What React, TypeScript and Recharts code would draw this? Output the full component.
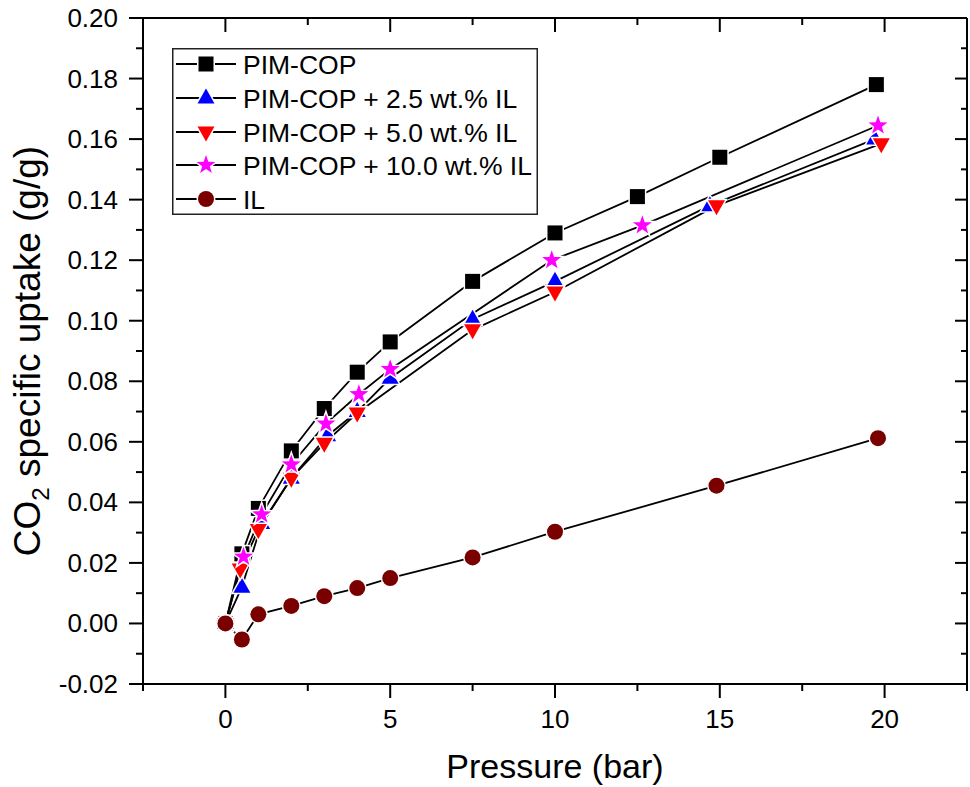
import React from 'react';
import { ComposedChart, Line, XAxis, YAxis, Legend, Label } from 'recharts';

// ---------- data (pressure in bar, uptake in g/g) ----------
const pimCop = [
  { x: 0, y: 0 }, { x: 0.5, y: 0.023 }, { x: 1, y: 0.038 }, { x: 2, y: 0.057 },
  { x: 3, y: 0.071 }, { x: 4, y: 0.083 }, { x: 5, y: 0.093 }, { x: 7.5, y: 0.113 },
  { x: 10, y: 0.129 }, { x: 12.5, y: 0.141 }, { x: 15, y: 0.154 }, { x: 19.75, y: 0.178 },
];
const pimCop25 = [
  { x: 0, y: 0 }, { x: 0.5, y: 0.012 }, { x: 1.1, y: 0.033 }, { x: 2, y: 0.048 },
  { x: 3.1, y: 0.062 }, { x: 4, y: 0.07 }, { x: 5, y: 0.081 }, { x: 7.5, y: 0.1005 },
  { x: 10, y: 0.113 }, { x: 14.7, y: 0.138 }, { x: 19.7, y: 0.16 },
];
const pimCop50 = [
  { x: 0, y: 0 }, { x: 0.45, y: 0.018 }, { x: 1, y: 0.031 }, { x: 2, y: 0.048 },
  { x: 3, y: 0.0595 }, { x: 4, y: 0.0695 }, { x: 7.5, y: 0.097 },
  { x: 10, y: 0.1095 }, { x: 14.9, y: 0.138 }, { x: 19.9, y: 0.1585 },
];
const pimCop100 = [
  { x: 0, y: 0 }, { x: 0.55, y: 0.022 }, { x: 1.1, y: 0.036 }, { x: 2, y: 0.0525 },
  { x: 3.05, y: 0.066 }, { x: 4.05, y: 0.0757 }, { x: 5, y: 0.084 },
  { x: 9.9, y: 0.12 }, { x: 12.65, y: 0.1315 }, { x: 19.8, y: 0.1645 },
];
const ionicLiquid = [
  { x: 0, y: 0 }, { x: 0.5, y: -0.0053 }, { x: 1, y: 0.003 }, { x: 2, y: 0.0058 },
  { x: 3, y: 0.009 }, { x: 4, y: 0.0117 }, { x: 5, y: 0.015 }, { x: 7.5, y: 0.0218 },
  { x: 10, y: 0.0303 }, { x: 14.9, y: 0.0455 }, { x: 19.8, y: 0.0612 },
];

const seriesNames = [
  'PIM-COP',
  'PIM-COP + 2.5 wt.% IL',
  'PIM-COP + 5.0 wt.% IL',
  'PIM-COP + 10.0 wt.% IL',
  'IL',
];

const xDomain = [-2.5, 22.5];
const yDomain = [-0.02, 0.2];
const xTicks = [-2.5, 0, 2.5, 5, 7.5, 10, 12.5, 15, 17.5, 20, 22.5];
const xMajorTicks = [0, 5, 10, 15, 20];
const yTicks = [-0.02, -0.01, 0, 0.01, 0.02, 0.03, 0.04, 0.05, 0.06, 0.07, 0.08, 0.09, 0.1,
  0.11, 0.12, 0.13, 0.14, 0.15, 0.16, 0.17, 0.18, 0.19, 0.2];
const yMajorTicks = [-0.02, 0, 0.02, 0.04, 0.06, 0.08, 0.1, 0.12, 0.14, 0.16, 0.18, 0.2];

const xAxisTitle = 'Pressure (bar)';

// ---------- styling ----------
const FONT = '"Liberation Sans", Arial, Helvetica, sans-serif';
const BLUE = '#0000FF';
const RED = '#FF0000';
const MAGENTA = '#FF00FF';
const DARKRED = '#7A0000';

const isMajor = (v: number, list: number[]) => list.some((m) => Math.abs(m - v) < 1e-9);

// ---------- marker shapes ----------
const halo = { stroke: '#fff', strokeWidth: 3, paintOrder: 'stroke' } as any;

const SquareMark = ({ cx, cy, s = 15 }: any) => (
  <rect x={cx - s / 2} y={cy - s / 2} width={s} height={s} fill="#000" {...halo} />
);
const TriUpMark = ({ cx, cy, color }: any) => (
  <polygon points={`${cx},${cy - 9.5} ${cx - 8.5},${cy + 5.5} ${cx + 8.5},${cy + 5.5}`} fill={color} {...halo} />
);
const TriDownMark = ({ cx, cy, color }: any) => (
  <polygon points={`${cx},${cy + 9.5} ${cx - 8.5},${cy - 5.5} ${cx + 8.5},${cy - 5.5}`} fill={color} {...halo} />
);
const StarMark = ({ cx, cy, color }: any) => {
  const pts: string[] = [];
  for (let i = 0; i < 10; i++) {
    const r = i % 2 === 0 ? 10 : 4;
    const a = -Math.PI / 2 + (i * Math.PI) / 5;
    pts.push(`${cx + r * Math.cos(a)},${cy + r * Math.sin(a)}`);
  }
  return <polygon points={pts.join(' ')} fill={color} {...halo} />;
};
const CircleMark = ({ cx, cy, color }: any) => <circle cx={cx} cy={cy} r={8} fill={color} {...halo} />;

const markers = [
  (p: any) => <SquareMark {...p} />,
  (p: any) => <TriUpMark {...p} color={BLUE} />,
  (p: any) => <TriDownMark {...p} color={RED} />,
  (p: any) => <StarMark {...p} color={MAGENTA} />,
  (p: any) => <CircleMark {...p} color={DARKRED} />,
];

const makeDot = (idx: number) => (props: any) => {
  const { cx, cy, key, index } = props;
  if (cx == null || cy == null) return <g key={key ?? index} />;
  return <g key={key ?? `d-${idx}-${index}`}>{markers[idx]({ cx, cy })}</g>;
};

// ---------- ticks ----------
const BottomTick = ({ x, y, payload }: any) => {
  const major = isMajor(payload.value, xMajorTicks);
  return (
    <g>
      <line x1={x} x2={x} y1={y} y2={y + (major ? 14 : 7)} stroke="#000" strokeWidth={2} />
      {major && (
        <text x={x} y={y + 44} textAnchor="middle" fontSize={26} fontFamily={FONT} fill="#000">
          {payload.value}
        </text>
      )}
    </g>
  );
};
const TopTick = ({ x, y, payload }: any) => {
  const major = isMajor(payload.value, xMajorTicks);
  return <line x1={x} x2={x} y1={y} y2={y + (major ? 14 : 7)} stroke="#000" strokeWidth={2} />;
};
const LeftTick = ({ x, y, payload }: any) => {
  const major = isMajor(payload.value, yMajorTicks);
  return (
    <g>
      <line x1={x} x2={x - (major ? 14 : 7)} y1={y} y2={y} stroke="#000" strokeWidth={2} />
      {major && (
        <text x={x - 25} y={y + 9} textAnchor="end" fontSize={26} fontFamily={FONT} fill="#000">
          {payload.value.toFixed(2)}
        </text>
      )}
    </g>
  );
};
const RightTick = ({ x, y, payload }: any) => {
  const major = isMajor(payload.value, yMajorTicks);
  return <line x1={x} x2={x - (major ? 12 : 6)} y1={y} y2={y} stroke="#000" strokeWidth={2} />;
};

// ---------- titles ----------
const XTitle = ({ viewBox }: any) => {
  const { x, y, width } = viewBox;
  return (
    <text x={x + width / 2} y={y + 94} textAnchor="middle" fontSize={34} fontFamily={FONT} fill="#000">
      {xAxisTitle}
    </text>
  );
};
const YTitle = ({ viewBox }: any) => {
  const { x, y, height } = viewBox;
  const cx = x + 40;
  const cy = y + height / 2;
  return (
    <text
      x={cx}
      y={cy}
      transform={`rotate(-90, ${cx}, ${cy})`}
      textAnchor="middle"
      fontSize={37}
      fontFamily={FONT}
      fill="#000"
    >
      CO<tspan dy={9} fontSize={24}>2</tspan>
      <tspan dy={-9}> specific uptake (g/g)</tspan>
    </text>
  );
};

// ---------- legend ----------
const LegendBox = () => {
  const rowY = [16, 50, 84, 117, 151];
  return (
    <svg width={366} height={167} style={{ display: 'block' }}>
      <rect x={0.75} y={0.75} width={364.5} height={165.5} fill="#fff" stroke="#222" strokeWidth={1.5} />
      {seriesNames.map((name, i) => (
        <g key={name}>
          <line x1={4} x2={64} y1={rowY[i]} y2={rowY[i]} stroke="#000" strokeWidth={2} />
          {markers[i]({ cx: 34, cy: rowY[i] })}
          <text x={71} y={rowY[i] + 9.5} fontSize={26.5} fontFamily={FONT} fill="#000">
            {name}
          </text>
        </g>
      ))}
    </svg>
  );
};

const allSeries = [pimCop, pimCop25, pimCop50, pimCop100, ionicLiquid];

export default function App() {
  return (
    <div style={{ position: 'absolute', left: 0, top: 0, width: 970, height: 787, background: '#fff' }}>
      <ComposedChart width={970} height={787} margin={{ top: 0, right: 0, bottom: 0, left: 0 }}>
        <XAxis
          xAxisId="b"
          dataKey="x"
          type="number"
          domain={xDomain}
          allowDataOverflow
          ticks={xTicks}
          interval={0}
          height={103}
          tickSize={0}
          tickMargin={0}
          tickLine={false}
          tick={<BottomTick />}
          axisLine={{ stroke: '#000', strokeWidth: 2 }}
        >
          <Label content={<XTitle />} />
        </XAxis>
        <XAxis
          xAxisId="t"
          orientation="top"
          dataKey="x"
          type="number"
          domain={xDomain}
          allowDataOverflow
          ticks={xTicks}
          interval={0}
          height={18}
          tickSize={0}
          tickMargin={0}
          tickLine={false}
          tick={<TopTick />}
          axisLine={{ stroke: '#000', strokeWidth: 2 }}
        />
        <YAxis
          yAxisId="l"
          type="number"
          domain={yDomain}
          allowDataOverflow
          ticks={yTicks}
          interval={0}
          width={143}
          tickSize={0}
          tickMargin={0}
          tickLine={false}
          tick={<LeftTick />}
          axisLine={{ stroke: '#000', strokeWidth: 2 }}
        >
          <Label content={<YTitle />} />
        </YAxis>
        <YAxis
          yAxisId="r"
          orientation="right"
          type="number"
          domain={yDomain}
          allowDataOverflow
          ticks={yTicks}
          interval={0}
          width={3}
          tickSize={0}
          tickMargin={0}
          tickLine={false}
          tick={<RightTick />}
          axisLine={{ stroke: '#000', strokeWidth: 2 }}
        />
        <Legend
          layout="vertical"
          align="center"
          verticalAlign="middle"
          content={<LegendBox />}
          wrapperStyle={{ position: 'absolute', left: 172, top: 48, width: 366, height: 167, margin: 0, padding: 0 }}
        />
        {allSeries.map((data, i) => (
          <Line
            key={seriesNames[i]}
            name={seriesNames[i]}
            data={data}
            dataKey="y"
            xAxisId="b"
            yAxisId="l"
            type="linear"
            stroke="#000"
            strokeWidth={1.8}
            dot={makeDot(i)}
            activeDot={false}
            isAnimationActive={false}
          />
        ))}
      </ComposedChart>
    </div>
  );
}
